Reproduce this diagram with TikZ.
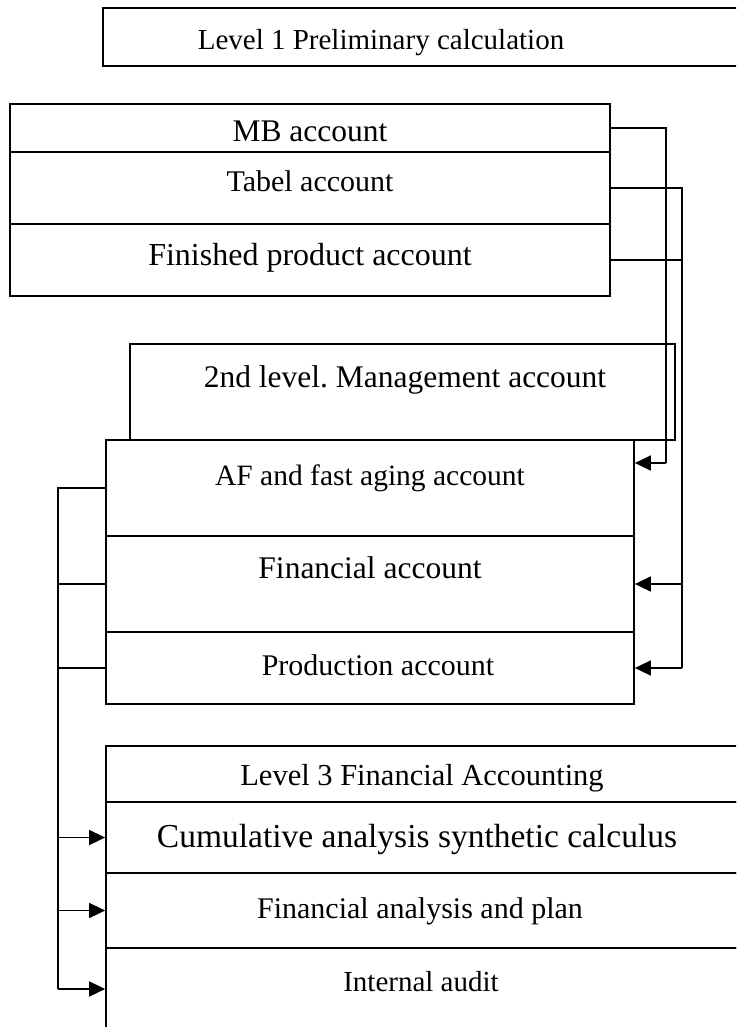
\documentclass[tikz,border=0pt]{standalone}
\usepackage{fontspec}
\setmainfont{Liberation Serif}
\frenchspacing
\usetikzlibrary{arrows.meta,calc}
\begin{document}
\begin{tikzpicture}[x=1pt,y=-1pt,
  cell/.style={draw, line width=1.7pt, rectangle, inner sep=0pt},
  lbl/.style={anchor=base, inner sep=0pt, font=\fontsize{#1}{36}\selectfont},
  lbl/.default=31,
  conn/.style={line width=1.5pt},
  arr/.style={line width=1.5pt, -{Triangle[length=16pt,width=15pt]}}]
\useasboundingbox (0,0) rectangle (736,1027);
\clip (0,0) rectangle (736,1027);
% level 1 title
\node[cell, minimum width=640pt, minimum height=58pt] (top) at (423,37) {};
\node[lbl=29] (ltop) at (381,50) {Level 1 Preliminary calculation};
% level 1 table
\node[cell, minimum width=600pt, minimum height=48pt] (mb) at (310,128) {};
\node[cell, minimum width=600pt, minimum height=72pt] (tabel) at (310,188) {};
\node[cell, minimum width=600pt, minimum height=72pt] (fin) at (310,260) {};
\node[lbl=31.5] (lmb) at (310,142) {MB account};
\node[lbl=30] (ltabel) at (310,192) {Tabel account};
\node[lbl=32] (lfin) at (310,265) {Finished product account};
% level 2
\node[cell, minimum width=545pt, minimum height=96pt] (hdr2) at (402.5,392) {};
\node[cell, minimum width=528pt, minimum height=96pt] (af) at (370,488) {};
\node[cell, minimum width=528pt, minimum height=96pt] (finacc) at (370,584) {};
\node[cell, minimum width=528pt, minimum height=72pt] (prod) at (370,668) {};
\node[lbl=31.5] (lhdr2) at (405,387) {2nd level. Management account};
\node[lbl=29.5] (laf) at (370,485) {AF and fast aging account};
\node[lbl=31.5] (lfinacc) at (370,578) {Financial account};
\node[lbl=30] (lprod) at (378,675) {Production account};
% level 3
\node[cell, minimum width=636pt, minimum height=56pt] (hdr3) at (424,774) {};
\node[cell, minimum width=636pt, minimum height=71pt] (cum) at (424,837.5) {};
\node[cell, minimum width=636pt, minimum height=75pt] (fan) at (424,910.5) {};
\node[cell, minimum width=636pt, minimum height=82pt] (audit) at (424,989) {};
\node[lbl=30.5] (lhdr3) at (422,785) {Level 3 Financial Accounting};
\node[lbl=33.5] (lcum) at (417,847) {Cumulative analysis synthetic calculus};
\node[lbl=30] (lfan) at (420,918) {Financial analysis and plan};
\node[lbl=29] (laudit) at (421,991) {Internal audit};
% right connectors
\coordinate (bendA) at (666,463);
\coordinate (busR) at (682,668);
\draw[conn] (mb.east) -| (bendA);
\draw[arr] (bendA) -- (af.east |- bendA);
\draw[conn] (tabel.east) -| (busR);
\draw[conn] (fin.east) -- (fin.east -| busR);
\draw[arr] (busR |- finacc.east) -- (finacc.east);
\draw[arr] (busR) -- (prod.east);
% left connectors
\coordinate (busL) at (58,989);
\draw[conn] (af.west) -| (busL);
\draw[arr] (busL) -- (audit.west);
\draw[conn] (finacc.west) -- (finacc.west -| busL);
\draw[conn] (prod.west) -- (prod.west -| busL);
\draw[arr] (busL |- cum.west) -- (cum.west);
\draw[arr] (busL |- fan.west) -- (fan.west);
\end{tikzpicture}
\end{document}
